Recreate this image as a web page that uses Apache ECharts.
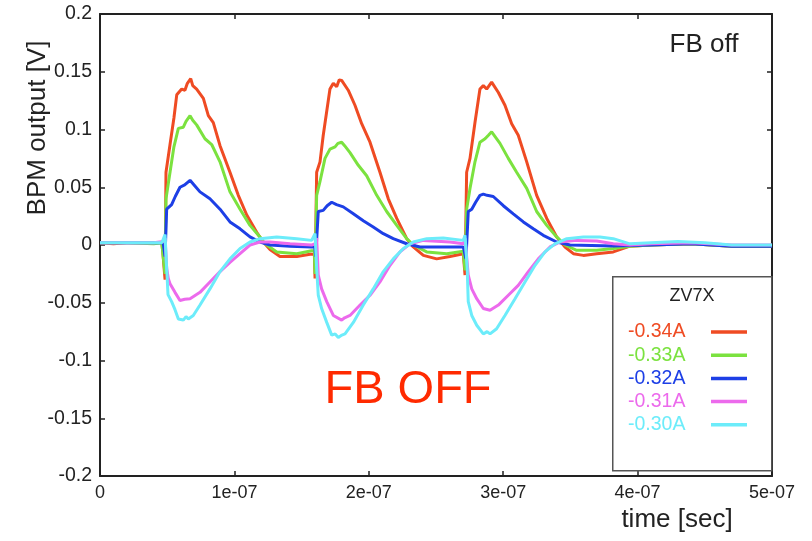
<!DOCTYPE html>
<html>
<head>
<meta charset="utf-8">
<script src="https://cdn.jsdelivr.net/npm/echarts@6/dist/echarts.min.js"></script>
<style>
html,body{margin:0;padding:0;background:#fff;}
#chart{width:812px;height:541px;}
</style>
</head>
<body>
<div id="chart"></div>
<script>
// time in ns, value in V
var seriesNames = ['-0.34A', '-0.33A', '-0.32A', '-0.31A', '-0.30A'];
var seriesColors = ['#ef4b23', '#7be23f', '#1d3fe6', '#ec6aec', '#6cecfa'];
var xTickLabels = ['0', '1e-07', '2e-07', '3e-07', '4e-07', '5e-07'];
var yTickLabels = ['-0.2', '-0.15', '-0.1', '-0.05', '0', '0.05', '0.1', '0.15', '0.2'];

var red = [[0,0.002],[10,0.001],[20,0.002],[30,0.002],[40,0.002],[46,0.002],[47,-0.01],[48.4,-0.03],[49.1,0.063],[52.1,0.087],[55,0.11],[57.1,0.130],[60.8,0.135],[63.2,0.134],[65,0.140],[67.5,0.144],[69,0.138],[71.9,0.135],[76.9,0.127],[80.6,0.112],[84.3,0.106],[89.3,0.086],[96.7,0.063],[102.9,0.043],[109.2,0.026],[116.6,0.011],[121.5,0.0026],[126.5,-0.004],[133.9,-0.010],[146.4,-0.010],[156.3,-0.008],[159.5,-0.008],[160,-0.029],[161.2,0.063],[163.7,0.072],[166.1,0.095],[171.1,0.135],[173.6,0.140],[176.1,0.137],[178,0.143],[179.8,0.1425],[184.7,0.134],[189.7,0.121],[194.7,0.105],[200.9,0.089],[208.3,0.063],[214.5,0.040],[220.8,0.023],[228.2,0.0055],[233.1,-0.0017],[240.6,-0.009],[250.5,-0.012],[260.4,-0.010],[270.3,-0.0075],[271.2,-0.008],[271.6,-0.026],[272.8,0.063],[275.3,0.075],[279.0,0.106],[282.7,0.135],[285.2,0.138],[287.7,0.135],[291.4,0.141],[296.4,0.132],[301.3,0.121],[306.3,0.105],[311.2,0.095],[317.5,0.072],[324.9,0.043],[332.4,0.023],[339.8,0.007],[346.0,-0.0017],[352.2,-0.0075],[359.6,-0.009],[369.6,-0.0075],[381.9,-0.006],[394.3,-0.001],[410,0.0],[440,0.001],[470,-0.001],[500,-0.001]];

var green = [[0,0.002],[20,0.002],[40,0.001],[46,0.002],[47,-0.01],[48.4,-0.025],[49.1,0.040],[52.1,0.063],[55,0.085],[58.3,0.101],[62.0,0.102],[64,0.107],[67.0,0.112],[69,0.108],[71.9,0.104],[78.1,0.092],[83.1,0.087],[89.3,0.072],[96.7,0.046],[104.2,0.031],[111.6,0.017],[119.0,0.007],[122.8,0.001],[131.5,-0.006],[146.4,-0.0075],[157.5,-0.005],[159.5,-0.005],[160,-0.025],[161.2,0.043],[163.7,0.055],[167.4,0.075],[171.1,0.083],[174.9,0.085],[177,0.088],[179.8,0.089],[182,0.086],[186.0,0.080],[192.2,0.069],[198.4,0.060],[205.9,0.043],[213.3,0.029],[220.8,0.017],[228.2,0.0055],[233.1,0.0],[243.1,-0.006],[258.0,-0.0075],[270.3,-0.0055],[271.2,-0.006],[271.6,-0.022],[272.8,0.031],[275.3,0.049],[279.0,0.072],[282.7,0.089],[286.5,0.092],[289,0.095],[291.4,0.098],[297.6,0.088],[303.8,0.075],[310.0,0.063],[317.5,0.049],[324.9,0.029],[332.4,0.017],[339.8,0.007],[346.0,0.0],[354.7,-0.0046],[369.6,-0.0046],[381.9,-0.003],[394.3,-0.001],[410,0.0],[440,0.001],[470,-0.001],[500,-0.001]];

var blue = [[0,0.002],[20,0.002],[40,0.002],[47,0.002],[48.4,-0.01],[49.6,0.031],[53.3,0.035],[56,0.042],[59.5,0.050],[63,0.052],[67.0,0.056],[70,0.052],[74.4,0.046],[81.8,0.040],[89.3,0.031],[96.7,0.020],[104.2,0.014],[111.6,0.007],[119.0,0.0026],[126.5,0.0],[141.4,-0.001],[157.5,-0.0017],[159.8,-0.0017],[160.5,-0.01],[162.4,0.029],[166.1,0.030],[169,0.034],[172.4,0.037],[176,0.035],[181.0,0.033],[188.5,0.027],[195.9,0.021],[203.3,0.0156],[210.8,0.0098],[218.2,0.0055],[228.2,0.0011],[238.1,-0.0017],[270.3,-0.0017],[271.6,-0.0017],[272.3,-0.012],[274.0,0.029],[276.6,0.031],[279.5,0.037],[282.7,0.043],[285.2,0.044],[288,0.043],[292.6,0.042],[300.1,0.034],[307.5,0.027],[315.0,0.020],[322.4,0.014],[329.8,0.0084],[339.8,0.0026],[349.7,0.0],[381.9,-0.0009],[410,0.0],[440,0.001],[470,-0.001],[500,-0.001]];

var magenta = [[0,0.002],[20,0.002],[40,0.002],[47,0.003],[48.4,0.006],[49.6,-0.02],[50.8,-0.029],[52.1,-0.0335],[55.8,-0.041],[59.5,-0.048],[63,-0.047],[67.0,-0.0465],[74.4,-0.041],[81.8,-0.032],[89.3,-0.023],[96.7,-0.015],[104.2,-0.0075],[111.6,0.0],[119.0,0.0026],[126.5,0.0026],[141.4,0.001],[157.5,0.0],[160,0.001],[161.2,0.006],[162.4,-0.026],[164.9,-0.038],[168.7,-0.049],[173.6,-0.061],[179.8,-0.065],[182,-0.063],[186.0,-0.061],[193.5,-0.052],[200.9,-0.0435],[208.3,-0.032],[215.8,-0.0176],[223.2,-0.006],[230.7,0.001],[240.6,0.004],[260.4,0.0026],[270.3,0.001],[271.6,0.006],[274.0,-0.026],[276.6,-0.038],[280.3,-0.0465],[285.2,-0.055],[290.2,-0.0565],[296.4,-0.052],[303.8,-0.0435],[311.2,-0.035],[318.7,-0.023],[326.1,-0.012],[334.8,-0.0017],[342.3,0.0026],[354.7,0.004],[369.6,0.0035],[381.9,0.001],[394.3,0.0],[410,0.001],[440,0.002],[470,0.0],[500,0.0]];

var cyan = [[0,0.002],[20,0.002],[40,0.002],[46,0.002],[48.4,0.009],[49.6,-0.02],[50.6,-0.043],[53.3,-0.049],[55.8,-0.056],[58.3,-0.064],[62.0,-0.065],[64,-0.062],[65.7,-0.064],[69.4,-0.061],[74.4,-0.052],[81.8,-0.038],[89.3,-0.023],[96.7,-0.012],[104.2,-0.003],[111.6,0.0026],[119.0,0.0055],[131.5,0.007],[146.4,0.0055],[157.5,0.004],[160.0,0.0098],[161.2,-0.02],[162.4,-0.0435],[164.9,-0.055],[168.7,-0.067],[172.4,-0.078],[175,-0.077],[177.3,-0.080],[180,-0.078],[182.3,-0.077],[188.5,-0.067],[195.9,-0.052],[203.3,-0.038],[210.8,-0.023],[218.2,-0.012],[225.7,-0.003],[233.1,0.0026],[243.1,0.0055],[255.4,0.006],[270.3,0.004],[271.6,0.0084],[273.2,-0.02],[274.0,-0.049],[276.6,-0.061],[280.3,-0.0695],[285.2,-0.077],[288,-0.075],[290.2,-0.077],[295.1,-0.0725],[301.3,-0.061],[308.8,-0.0465],[316.2,-0.032],[323.7,-0.0176],[331.1,-0.006],[338.5,0.001],[347.3,0.0055],[359.6,0.007],[372.0,0.007],[381.9,0.0055],[394.3,0.001],[410,0.002],[430,0.003],[450,0.002],[470,0.0],[500,0.0]];

var seriesData = [red, green, blue, magenta, cyan];

var FONT = "'Liberation Sans', Arial, Helvetica, sans-serif";
var chart = echarts.init(document.getElementById('chart'), null, {renderer: 'canvas'});

function xLab(v){ return xTickLabels[Math.round(v / 100)]; }
function yLab(v){ return yTickLabels[Math.round((v + 0.2) / 0.05)]; }

var legendRich = {};
seriesColors.forEach(function(c, i){
  legendRich['c' + i] = {color: c, fontSize: 19.5, fontFamily: FONT, width: 78, align: 'left', height: 22, lineHeight: 22};
});

var axisLineStyle = {color: '#222', width: 2};
var option = {
  animation: false,
  backgroundColor: '#fff',
  grid: {left: 100, right: 40, top: 14, bottom: 65, show: false},
  xAxis: [
    {type: 'value', min: 0, max: 500, interval: 100, position: 'bottom',
     axisLine: {show: true, onZero: false, lineStyle: axisLineStyle},
     axisTick: {show: true, inside: true, length: 5, lineStyle: {color: '#222', width: 1.5}},
     axisLabel: {formatter: xLab, fontSize: 18, color: '#222', fontFamily: FONT, margin: 8},
     splitLine: {show: false}},
    {type: 'value', min: 0, max: 500, interval: 100, position: 'top',
     axisLine: {show: true, onZero: false, lineStyle: axisLineStyle},
     axisTick: {show: true, inside: true, length: 5, lineStyle: {color: '#222', width: 1.5}},
     axisLabel: {show: false}, splitLine: {show: false}}
  ],
  yAxis: [
    {type: 'value', min: -0.2, max: 0.2, interval: 0.05, position: 'left',
     axisLine: {show: true, onZero: false, lineStyle: axisLineStyle},
     axisTick: {show: true, inside: true, length: 5, lineStyle: {color: '#222', width: 1.5}},
     axisLabel: {formatter: yLab, fontSize: 19.5, color: '#222', fontFamily: FONT, margin: 8},
     splitLine: {show: false}},
    {type: 'value', min: -0.2, max: 0.2, interval: 0.05, position: 'right',
     axisLine: {show: true, onZero: false, lineStyle: axisLineStyle},
     axisTick: {show: true, inside: true, length: 5, lineStyle: {color: '#222', width: 1.5}},
     axisLabel: {show: false}, splitLine: {show: false}}
  ],
  legend: {
    orient: 'vertical', left: 628, top: 321, padding: 0, icon: 'rect',
    itemWidth: 36, itemHeight: 3.5, itemGap: 1.2, align: 'right',
    formatter: function(name){ return '{c' + seriesNames.indexOf(name) + '|' + name + '}'; },
    textStyle: {fontSize: 19.5, fontFamily: FONT, rich: legendRich},
    data: seriesNames
  },
  series: seriesNames.map(function(n, i){
    return {name: n, type: 'line', data: seriesData[i], xAxisIndex: 0, yAxisIndex: 0,
      showSymbol: false, symbol: 'none', color: seriesColors[i],
      lineStyle: {width: 3, color: seriesColors[i]}, z: 2 + i};
  }),
  graphic: [
    {type: 'rect', left: 612, top: 276, z: 1,
     shape: {width: 159, height: 194}, style: {fill: '#fff', stroke: '#555', lineWidth: 1.5}},
    {type: 'text', x: 692, y: 296, z: 10,
     style: {text: 'ZV7X', font: '18px ' + FONT, fill: '#222', textAlign: 'center', textVerticalAlign: 'middle'}},
    {type: 'text', x: 704, y: 45, z: 10,
     style: {text: 'FB off', font: '26px ' + FONT, fill: '#222', textAlign: 'center', textVerticalAlign: 'middle'}},
    {type: 'text', x: 408, y: 390, z: 10,
     style: {text: 'FB OFF', font: '47px ' + FONT, fill: '#ff2a00', textAlign: 'center', textVerticalAlign: 'middle'}},
    {type: 'text', x: 677, y: 520, z: 10,
     style: {text: 'time [sec]', font: '26px ' + FONT, fill: '#222', textAlign: 'center', textVerticalAlign: 'middle'}},
    {type: 'text', x: 38, y: 128, rotation: Math.PI / 2, z: 10,
     style: {text: 'BPM output [V]', font: '26px ' + FONT, fill: '#222', textAlign: 'center', textVerticalAlign: 'middle'}}
  ]
};
chart.setOption(option);
</script>
</body>
</html>
